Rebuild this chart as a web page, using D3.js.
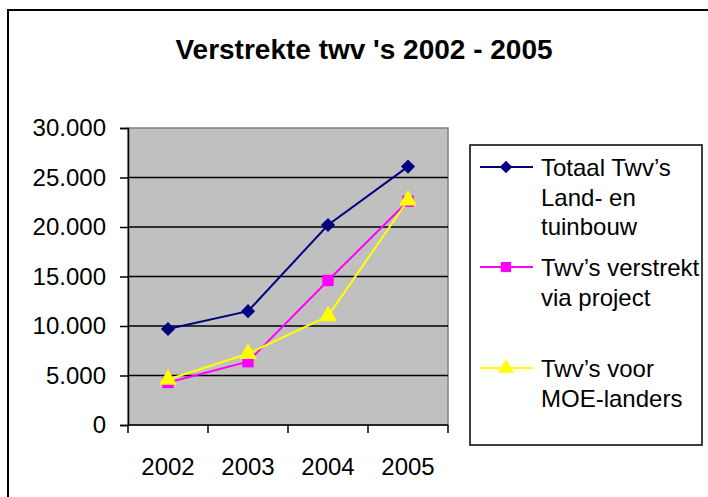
<!DOCTYPE html>
<html>
<head>
<meta charset="utf-8">
<script src="https://cdn.jsdelivr.net/npm/d3@7"></script>
<style>
  html, body { margin: 0; padding: 0; background: #fff; }
  svg { display: block; font-family: Arial, "Liberation Sans", sans-serif; }
</style>
</head>
<body>
<svg id="chart" width="708" height="497"></svg>
<script>
const years = ["2002", "2003", "2004", "2005"];
const totaal = [9700, 11500, 20200, 26100];
const project = [4300, 6400, 14600, 22600];
const moe = [4600, 7200, 11000, 22700];
const yTicks = [0, 5000, 10000, 15000, 20000, 25000, 30000];

// excel style diamond: a square turned 45 degrees
const symbolRhomb = {
  draw(ctx, size) {
    const r = Math.sqrt(size / 2);
    ctx.moveTo(0, -r); ctx.lineTo(r, 0); ctx.lineTo(0, r); ctx.lineTo(-r, 0); ctx.closePath();
  }
};

const series = [
  { name: ["Totaal Twv\u2019s", "Land- en", "tuinbouw"], values: totaal, color: "#000080", symbol: symbolRhomb, size: 100, legendY: 167 },
  { name: ["Twv\u2019s verstrekt", "via project"], values: project, color: "#ff00ff", symbol: d3.symbolSquare, size: 130, legendY: 267 },
  { name: ["Twv\u2019s voor", "MOE-landers"], values: moe, color: "#ffff00", symbol: d3.symbolTriangle, size: 140, legendY: 368 }
];

const plot = { left: 128, right: 448, top: 128, bottom: 425 };
const svg = d3.select("#chart");

// outer chart border (runs off the right and bottom edges)
svg.append("rect")
  .attr("x", 8).attr("y", 10).attr("width", 720).attr("height", 500)
  .attr("fill", "#fff").attr("stroke", "#000").attr("stroke-width", 2);

svg.append("text")
  .attr("x", 364).attr("y", 59)
  .attr("text-anchor", "middle")
  .attr("font-size", 28).attr("font-weight", "bold")
  .text("Verstrekte twv 's 2002 - 2005");

const x = d3.scaleBand().domain(years).range([plot.left, plot.right]);
const y = d3.scaleLinear().domain([0, 30000]).range([plot.bottom, plot.top]);
const nl = d3.formatLocale({ decimal: ",", thousands: ".", grouping: [3], currency: ["€", ""] });
const fmt = nl.format(",d");

svg.append("rect")
  .attr("x", plot.left).attr("y", plot.top)
  .attr("width", plot.right - plot.left).attr("height", plot.bottom - plot.top)
  .attr("fill", "#c0c0c0").attr("stroke", "#808080").attr("stroke-width", 1.5);

svg.append("g").selectAll("line")
  .data(yTicks.slice(1, -1))
  .join("line")
  .attr("x1", plot.left).attr("x2", plot.right)
  .attr("y1", d => y(d)).attr("y2", d => y(d))
  .attr("stroke", "#000").attr("stroke-width", 1.5);

const yAxis = svg.append("g")
  .attr("transform", `translate(${plot.left},0)`)
  .call(d3.axisLeft(y).tickValues(yTicks).tickFormat(fmt).tickSize(8).tickPadding(14));

const xAxis = svg.append("g")
  .attr("transform", `translate(0,${plot.bottom})`)
  .call(d3.axisBottom(x).tickSize(0).tickPadding(33));

// category boundary ticks
xAxis.selectAll(".bound")
  .data(d3.range(years.length + 1))
  .join("line")
  .attr("class", "bound")
  .attr("x1", i => plot.left + i * x.step()).attr("x2", i => plot.left + i * x.step())
  .attr("y1", 0).attr("y2", 8)
  .attr("stroke", "#000").attr("stroke-width", 1.5);

[yAxis, xAxis].forEach(a => {
  a.select(".domain").attr("stroke", "#000").attr("stroke-width", 1.5);
  a.selectAll(".tick line").attr("stroke", "#000").attr("stroke-width", 1.5);
  a.selectAll("text").attr("font-size", 24).attr("font-family", "Arial, 'Liberation Sans', sans-serif").attr("fill", "#000");
});
xAxis.select(".domain").attr("d", `M${plot.left},0H${plot.right}`);

const line = d3.line().x((d, i) => x(years[i]) + x.bandwidth() / 2).y(d => y(d));

series.forEach(s => {
  svg.append("path")
    .datum(s.values)
    .attr("d", line)
    .attr("fill", "none").attr("stroke", s.color).attr("stroke-width", 2);
  svg.append("g").selectAll("path")
    .data(s.values)
    .join("path")
    .attr("transform", (d, i) => `translate(${x(years[i]) + x.bandwidth() / 2},${y(d)})`)
    .attr("d", d3.symbol().type(s.symbol).size(s.size))
    .attr("fill", s.color);
});

// legend
const legend = svg.append("g");
legend.append("rect")
  .attr("x", 470).attr("y", 145).attr("width", 232).attr("height", 300)
  .attr("fill", "#fff").attr("stroke", "#000").attr("stroke-width", 1.5);

series.forEach(s => {
  legend.append("line")
    .attr("x1", 480).attr("x2", 533)
    .attr("y1", s.legendY).attr("y2", s.legendY)
    .attr("stroke", s.color).attr("stroke-width", 2);
  legend.append("path")
    .attr("transform", `translate(506,${s.legendY})`)
    .attr("d", d3.symbol().type(s.symbol).size(s.size * 0.8))
    .attr("fill", s.color);
  legend.append("g").selectAll("text")
    .data(s.name)
    .join("text")
    .attr("x", 541)
    .attr("y", (d, i) => s.legendY + 9 + i * 29.5)
    .attr("font-size", 24)
    .text(d => d);
});
</script>
</body>
</html>
